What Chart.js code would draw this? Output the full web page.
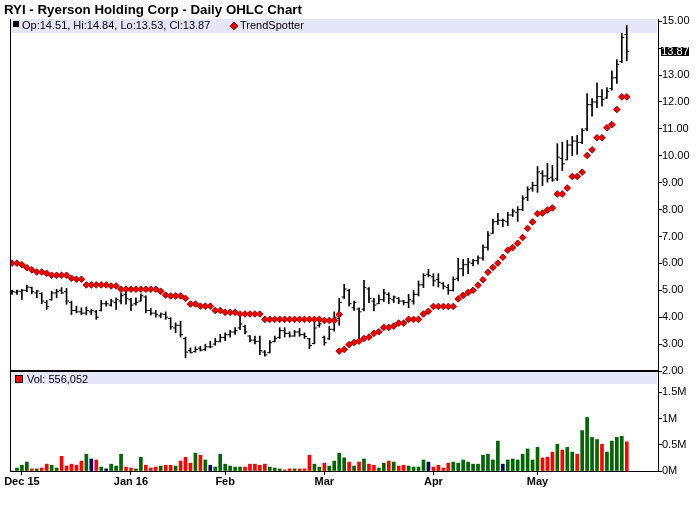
<!DOCTYPE html>
<html>
<head>
<meta charset="utf-8">
<title>RYI - Ryerson Holding Corp - Daily OHLC Chart</title>
<script src="https://cdn.jsdelivr.net/npm/chart.js@4.4.1/dist/chart.umd.min.js"></script>
<style>
  html, body { margin:0; padding:0; background:#fff; }
  #wrap { position:relative; width:700px; height:512px; overflow:hidden;
          font-family:"Liberation Sans", Arial, Helvetica, sans-serif; color:#000; }
  .abs { position:absolute; white-space:nowrap; }
  canvas { position:absolute; left:0; top:0; }
</style>
</head>
<body>
<div id="wrap">
  <div class="abs" style="left:11px;top:19px;width:646px;height:14px;background:#E6E6FA;"></div>
  <div class="abs" style="left:11px;top:372px;width:646px;height:12px;background:#E6E6FA;"></div>

  <canvas id="vol" width="700" height="512"></canvas>
  <canvas id="price" width="700" height="512"></canvas>

  <div class="abs" style="left:10px;top:19px;width:1px;height:452px;background:#000;"></div>
  <div class="abs" style="left:10px;top:370px;width:648px;height:2px;background:#000;"></div>

  <div class="abs" style="left:4px;top:3px;font-size:13.3px;line-height:13px;font-weight:bold;">RYI - Ryerson Holding Corp - Daily OHLC Chart</div>
  <div class="abs" style="left:13px;top:21px;width:6px;height:6px;background:#000;"></div>
  <div class="abs" id="ohlcText" style="left:22px;top:20px;font-size:11px;line-height:11px;"></div>
  <div class="abs" style="left:231px;top:23px;width:4px;height:4px;background:#F00000;border:0.5px solid #A00000;transform:rotate(45deg);"></div>
  <div class="abs" style="left:240px;top:20px;font-size:11px;line-height:11px;">TrendSpotter</div>

  <div class="abs" style="left:15px;top:375px;width:6px;height:6px;background:#FF0000;border:1px solid #000;"></div>
  <div class="abs" id="volText" style="left:27px;top:374px;font-size:11px;line-height:11px;"></div>

  <div class="abs" id="lastClose" style="background:#000;color:#fff;font-size:11px;line-height:9px;height:9px;width:28px;text-align:center;"></div>
</div>
<script>
// ---------------- data ----------------
const tickIndex  = [2, 24, 43, 63, 85, 106];
const tickLabels = ['Dec 15', 'Jan 16', 'Feb', 'Mar', 'Apr', 'May'];
const priceTicks = [2, 3, 4, 5, 6, 7, 8, 9, 10, 11, 12, 13, 14, 15];
const volumeTicks = [0, 500, 1000, 1500]; // thousands of shares

const opens = [4.92,4.93,4.95,5.00,5.10,4.90,4.88,4.55,4.65,4.90,
 5.00,4.95,4.55,4.25,4.20,4.15,4.20,4.20,4.25,4.50,
 4.45,4.55,4.60,4.85,4.65,4.50,4.60,4.75,4.25,4.15,
 4.05,4.10,3.95,3.60,3.70,3.20,2.75,2.72,2.85,2.80,
 2.90,3.00,3.10,3.25,3.35,3.45,3.60,3.65,3.30,3.15,
 3.10,2.70,2.68,3.10,3.25,3.50,3.40,3.30,3.45,3.35,
 3.20,3.02,3.70,3.25,3.20,3.55,3.95,4.75,5.00,4.35,
 4.30,4.30,5.05,4.60,4.50,4.65,4.85,4.65,4.70,4.60,
 4.55,4.60,4.85,5.20,5.60,5.50,5.40,5.25,5.10,5.00,
 5.45,5.80,5.95,6.00,6.10,6.20,6.60,7.12,7.55,7.60,
 7.55,7.80,7.90,8.00,8.45,8.80,8.90,9.35,9.25,9.20,
 9.15,9.90,9.85,10.40,10.55,10.50,11.00,11.90,12.00,12.20,
 12.15,12.50,12.90,13.50,14.51];

const highs = [5.01,5.01,5.04,5.19,5.12,5.00,4.91,4.63,4.97,5.04,
 5.10,5.07,4.60,4.41,4.35,4.38,4.29,4.25,4.63,4.60,
 4.66,4.72,4.90,5.00,4.70,4.72,4.87,4.79,4.33,4.25,
 4.16,4.20,3.98,3.79,3.85,3.26,2.86,2.90,2.92,3.00,
 3.11,3.21,3.36,3.42,3.51,3.61,4.13,3.70,3.32,3.30,
 3.30,2.76,3.13,3.30,3.61,3.61,3.46,3.51,3.58,3.42,
 3.21,3.92,3.83,3.30,3.67,4.20,4.70,5.22,5.04,4.60,
 4.35,5.37,5.10,4.70,4.83,5.04,4.91,4.79,4.73,4.63,
 4.85,5.00,5.35,5.62,5.78,5.62,5.62,5.29,5.22,5.50,
 6.19,6.15,6.19,6.15,6.28,6.69,7.18,7.65,7.86,7.65,
 7.90,8.02,8.11,8.52,8.85,9.02,9.60,9.45,9.72,9.64,
 10.45,10.51,10.57,10.72,10.76,11.01,12.31,12.13,12.71,12.46,
 12.54,13.16,13.58,14.55,14.84];

const lows = [4.85,4.85,4.66,4.95,4.87,4.72,4.50,4.29,4.63,4.72,
 4.87,4.48,4.10,4.16,4.10,4.08,4.10,3.92,4.23,4.41,
 4.41,4.29,4.49,4.48,4.25,4.45,4.60,4.16,4.08,4.00,
 3.98,3.92,3.55,3.42,3.26,2.49,2.67,2.70,2.74,2.76,
 2.86,2.96,3.08,3.13,3.26,3.36,3.54,3.38,3.08,3.01,
 2.61,2.55,2.67,3.08,3.21,3.26,3.26,3.29,3.29,3.21,
 2.83,3.01,3.63,2.96,3.17,3.48,3.70,4.70,4.41,4.25,
 3.11,4.23,4.54,4.23,4.50,4.58,4.50,4.54,4.50,4.45,
 4.35,4.48,4.79,5.10,5.50,5.16,5.12,5.04,4.85,4.97,
 5.35,5.53,5.62,5.91,5.97,6.12,6.49,7.11,7.44,7.36,
 7.40,7.74,7.56,7.96,8.33,8.68,8.64,8.89,9.02,9.05,
 9.08,9.45,9.85,10.01,10.05,10.45,10.92,11.47,11.79,11.84,
 12.13,12.44,12.69,13.46,13.53];

const closes = [4.95,4.97,5.00,5.12,4.95,4.97,4.60,4.40,4.90,4.95,
 4.90,4.60,4.25,4.20,4.15,4.25,4.25,4.00,4.50,4.50,
 4.60,4.65,4.80,4.70,4.45,4.55,4.80,4.25,4.15,4.10,
 4.12,4.00,3.65,3.70,3.35,2.70,2.68,2.80,2.78,2.90,
 2.90,3.10,3.25,3.35,3.45,3.50,3.75,3.45,3.15,3.10,
 2.75,2.60,3.05,3.20,3.50,3.40,3.30,3.45,3.35,3.28,
 2.95,3.60,3.75,3.05,3.55,4.00,4.55,5.05,4.50,4.55,
 4.20,5.10,4.70,4.45,4.65,4.90,4.70,4.75,4.60,4.55,
 4.65,4.85,5.20,5.55,5.55,5.35,5.30,5.15,5.00,5.40,
 5.80,5.95,6.05,6.10,6.20,6.60,7.05,7.55,7.60,7.60,
 7.80,7.95,8.00,8.40,8.75,8.90,9.40,9.25,9.15,9.10,
 9.95,9.70,10.40,10.55,10.50,10.95,11.90,12.00,12.20,12.10,
 12.40,12.90,13.40,14.40,13.87];

// volume in thousands of shares
const volumes = [0,57,110,170,40,40,57,130,110,57,
 280,94,130,110,190,320,230,210,75,40,
 130,94,320,75,57,40,260,110,57,75,
 94,110,110,94,190,260,150,340,300,210,
 110,75,320,130,94,75,75,75,130,130,
 110,130,75,57,40,20,40,40,40,40,
 300,130,75,150,94,190,340,250,170,94,
 170,230,130,110,57,150,190,170,94,110,
 94,75,75,210,170,75,110,57,150,170,
 150,210,170,130,130,300,320,210,570,130,
 210,230,210,320,420,210,450,250,260,360,
 510,400,450,360,320,770,1020,640,600,510,
 360,570,640,660,556.052];

const trendSpotter = [6.01,6.01,5.95,5.84,5.76,5.68,5.68,5.63,5.56,5.56,
 5.56,5.56,5.45,5.41,5.41,5.20,5.20,5.20,5.20,5.20,
 5.16,5.16,5.04,5.04,5.04,5.04,5.04,5.04,5.04,5.04,
 4.96,4.82,4.79,4.79,4.79,4.70,4.49,4.49,4.41,4.41,
 4.41,4.25,4.25,4.18,4.18,4.18,4.12,4.12,4.12,4.12,
 4.12,3.92,3.92,3.92,3.92,3.92,3.92,3.92,3.92,3.92,
 3.92,3.92,3.92,3.88,3.88,3.88,2.74,2.80,2.98,3.06,
 3.11,3.21,3.26,3.40,3.46,3.62,3.62,3.67,3.78,3.78,
 3.92,3.92,3.92,4.12,4.22,4.40,4.40,4.40,4.40,4.40,
 4.68,4.81,4.92,5.00,5.19,5.39,5.67,5.85,6.01,6.23,
 6.49,6.59,6.75,6.96,7.30,7.54,7.85,7.87,7.98,8.06,
 8.58,8.58,8.80,9.23,9.23,9.39,10.01,10.22,10.67,10.67,
 11.04,11.16,11.72,12.19,12.19];
const trendFlipIndex = [66];
const trendFlipValue = [4.10];

// ---------------- chart ----------------
const FONT = '"Liberation Sans", Arial, Helvetica, sans-serif';
Chart.defaults.font.family = FONT;
Chart.defaults.font.size = 11;
Chart.defaults.color = '#000';

const N = closes.length;
const idx = closes.map((_, i) => i);
const X_MIN = -0.4, X_MAX = 130.3;

const volColors = closes.map((c, i) =>
  i === 0 || c > closes[i - 1] ? '#006600' : (c < closes[i - 1] ? '#FF0000' : '#000066'));

const trendPoints = trendSpotter.map((v, i) => ({ x: i, y: v }))
  .concat(trendFlipIndex.map((x, k) => ({ x: x, y: trendFlipValue[k] })));

const priceChart = new Chart(document.getElementById('price'), {
  type: 'bar',
  data: {
    datasets: [
      { type: 'bar', data: idx.map(i => ({ x: i, y: [lows[i], highs[i]] })),
        backgroundColor: '#000', borderWidth: 0, barThickness: 1, grouped: false, order: 3 },
      { type: 'scatter', data: idx.map(i => ({ x: i, y: opens[i] })),
        pointStyle: 'dash', pointRotation: 180, pointRadius: 2.5,
        pointBorderColor: '#000', pointBackgroundColor: '#000', pointBorderWidth: 1, order: 2 },
      { type: 'scatter', data: idx.map(i => ({ x: i, y: closes[i] })),
        pointStyle: 'dash', pointRotation: 0, pointRadius: 2.5,
        pointBorderColor: '#000', pointBackgroundColor: '#000', pointBorderWidth: 1, order: 2 },
      { type: 'scatter', data: trendPoints,
        pointStyle: 'rectRot', pointRadius: 3.3,
        pointBackgroundColor: '#F00000', pointBorderColor: '#A00000', pointBorderWidth: 1, order: 0 }
    ]
  },
  options: {
    responsive: false, animation: false, events: [],
    layout: { padding: { left: 10, top: 19, right: 0, bottom: 141 } },
    plugins: { legend: { display: false }, tooltip: { enabled: false } },
    scales: {
      x: { type: 'linear', min: X_MIN, max: X_MAX, offset: false, display: false },
      y: {
        type: 'linear', position: 'right', min: 2, max: 15.085,
        afterBuildTicks: s => { s.ticks = priceTicks.map(v => ({ value: v })); },
        afterFit: s => { s.width = 42; },
        grid: { drawOnChartArea: false, drawTicks: true, tickLength: 4, color: '#000', tickColor: '#000' },
        border: { display: true, color: '#000', width: 1 },
        ticks: { padding: 0, color: '#000', font: { size: 11 },
                 callback: v => (v === 14 ? '' : Number(v).toFixed(2)) }
      }
    }
  }
});

const volChart = new Chart(document.getElementById('vol'), {
  type: 'bar',
  data: {
    datasets: [{ data: idx.map(i => ({ x: i, y: volumes[i] })),
                 backgroundColor: volColors, borderWidth: 0, barThickness: 3 }]
  },
  options: {
    responsive: false, animation: false, events: [],
    layout: { padding: { left: 10, top: 372, right: 0, bottom: 0 } },
    plugins: { legend: { display: false }, tooltip: { enabled: false } },
    scales: {
      x: {
        type: 'linear', min: X_MIN, max: X_MAX, offset: false,
        afterBuildTicks: s => { s.ticks = tickIndex.map(v => ({ value: v })); },
        afterFit: s => { s.height = 41; },
        grid: { drawOnChartArea: false, drawTicks: true, tickLength: 4, color: '#000', offset: false },
        border: { display: true, color: '#000', width: 1 },
        ticks: { autoSkip: false, maxRotation: 0, padding: 0, color: '#000',
                 font: { size: 11, weight: 'bold' },
                 callback: (v, i) => tickLabels[i] }
      },
      y: {
        type: 'linear', position: 'right', min: 0, max: 1886,
        afterBuildTicks: s => { s.ticks = volumeTicks.map(v => ({ value: v })); },
        afterFit: s => { s.width = 42; },
        grid: { drawOnChartArea: false, drawTicks: true, tickLength: 4, color: '#000' },
        border: { display: true, color: '#000', width: 1 },
        ticks: { padding: 0, color: '#000', font: { size: 11 },
                 callback: v => (v / 1000) + 'M' }
      }
    }
  }
});

// legend texts from the data
const L = N - 1;
document.getElementById('ohlcText').textContent =
  'Op:' + opens[L].toFixed(2) + ', Hi:' + highs[L].toFixed(2) +
  ', Lo:' + lows[L].toFixed(2) + ', Cl:' + closes[L].toFixed(2);
document.getElementById('volText').textContent =
  'Vol: ' + Math.round(volumes[L] * 1000).toLocaleString('en-US');

const lastLbl = document.getElementById('lastClose');
lastLbl.textContent = closes[L].toFixed(2);
lastLbl.style.top = (priceChart.scales.y.getPixelForValue(closes[L]) - 4.5) + 'px';
lastLbl.style.left = (priceChart.chartArea.right + 3) + 'px';
</script>
</body>
</html>
